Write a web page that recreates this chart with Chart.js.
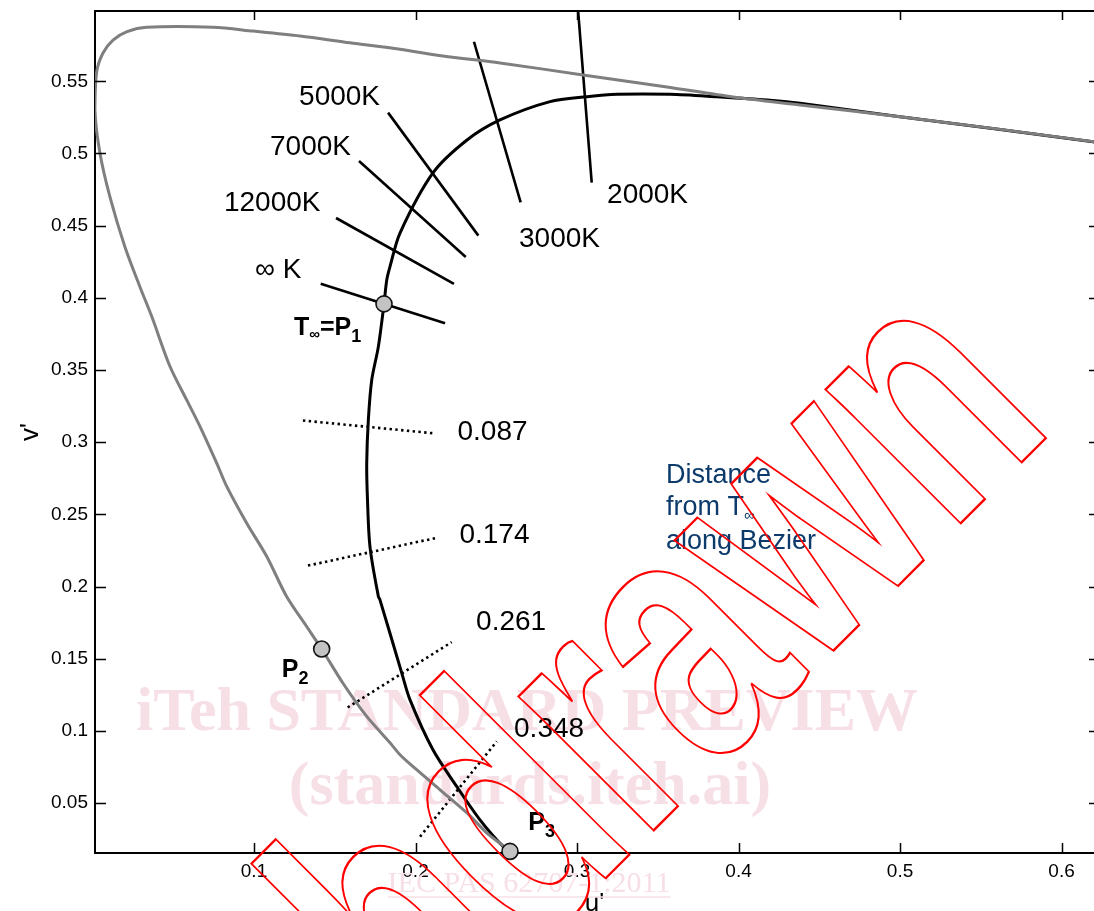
<!DOCTYPE html>
<html>
<head>
<meta charset="utf-8">
<script src="https://cdn.jsdelivr.net/npm/chart.js@4.4.1/dist/chart.umd.min.js"></script>
<style>
  html, body { margin: 0; padding: 0; background: #fff; }
</style>
</head>
<body>
<canvas id="chart" width="1094" height="911"></canvas>
<script>
const SANS = '"Liberation Sans", Arial, Helvetica, sans-serif';
const SERIF = '"Liberation Serif", "Times New Roman", serif';

// tick values
const xTicks = [0.1, 0.2, 0.3, 0.4, 0.5, 0.6];
const yTicks = [0.05, 0.1, 0.15, 0.2, 0.25, 0.3, 0.35, 0.4, 0.45, 0.5, 0.55];

// spectral locus (grey), violet end -> red end
const locusU = [0.2567, 0.2441, 0.2317, 0.2152, 0.2007, 0.1904, 0.1842, 0.1698, 0.1551, 0.1419,
  0.1326, 0.1202, 0.1079, 0.0955, 0.0831, 0.0769, 0.0666, 0.0583, 0.0480, 0.0367,
  0.0294, 0.0201, 0.0108, 0.0046, 0.0015, 0.0026, 0.0065, 0.0127, 0.0214, 0.0336,
  0.0746, 0.0994, 0.1285, 0.1594, 0.1904, 0.2170, 0.2523, 0.3037, 0.3557, 0.3966,
  0.4381, 0.5000, 0.6195, 0.6234];
const locusV = [0.0184, 0.0294, 0.0433, 0.0592, 0.0731, 0.0835, 0.0918, 0.1100, 0.1330, 0.1567,
  0.1723, 0.1931, 0.2208, 0.2439, 0.2694, 0.2855, 0.3108, 0.3293, 0.3524, 0.3870,
  0.4075, 0.4352, 0.4699, 0.5003, 0.5301, 0.5566, 0.5696, 0.5786, 0.5844, 0.5874,
  0.5874, 0.5848, 0.5814, 0.5767, 0.5722, 0.5675, 0.5627, 0.5544, 0.5461, 0.5391,
  0.5336, 0.5255, 0.5082, 0.5065];

// Bezier curve (black), from P3 upwards
const bezierU = [0.2585, 0.2542, 0.2399, 0.2255, 0.2108, 0.1966, 0.1915, 0.1780, 0.1770, 0.1718,
  0.1702, 0.1698, 0.1708, 0.1729, 0.1770, 0.1805, 0.1822, 0.1842, 0.1904, 0.2108,
  0.2319, 0.2523, 0.2833, 0.3062, 0.3248, 0.3576, 0.3867, 0.4176, 0.4381, 0.5000,
  0.6195, 0.6234];
const bezierV = [0.0165, 0.0199, 0.0384, 0.0615, 0.0869, 0.1215, 0.1400, 0.1908, 0.1931, 0.2277,
  0.2623, 0.2857, 0.3154, 0.3431, 0.3662, 0.3958, 0.4124, 0.4216, 0.4449, 0.4865,
  0.5093, 0.5232, 0.5359, 0.5393, 0.5410, 0.5410, 0.5393, 0.5371, 0.5348, 0.5255,
  0.5082, 0.5065];

// isotemperature lines (solid)
const isoNames = ['2000K', '3000K', '5000K', '7000K', '12000K', '\u221E K'];
const isoU0 = [0.3006, 0.2362, 0.1830, 0.1650, 0.1508, 0.1413];
const isoV0 = [0.6000, 0.5774, 0.5283, 0.4948, 0.4553, 0.4098];
const isoU1 = [0.3091, 0.2651, 0.2389, 0.2311, 0.2238, 0.2183];
const isoV1 = [0.4798, 0.4662, 0.4431, 0.4283, 0.4096, 0.3824];

// distance from T-infinity along the Bezier (dotted)
const distNames = ['0.087', '0.174', '0.261', '0.348'];
const distU0 = [0.1303, 0.1334, 0.1580, 0.2028];
const distV0 = [0.3150, 0.2145, 0.1162, 0.0267];
const distU1 = [0.2108, 0.2121, 0.2224, 0.2503];
const distV1 = [0.3062, 0.2335, 0.1615, 0.0927];

// control points
const ctrlNames = ['P1', 'P2', 'P3'];
const ctrlU = [0.1805, 0.1419, 0.2585];
const ctrlV = [0.3958, 0.1567, 0.0165];

const pts = (us, vs) => us.map((u, i) => ({ x: u, y: vs[i] }));

const datasets = [];
datasets.push({
    label: 'points',
    data: pts(ctrlU, ctrlV),
    pointRadius: 8,
    pointBackgroundColor: '#c3c3c3',
    pointBorderColor: '#111',
    pointBorderWidth: 1.6,
    showLine: false,
    clip: false
});
datasets.push({
    label: 'spectral locus',
    data: pts(locusU, locusV),
    showLine: true, pointRadius: 0,
    borderColor: '#7f7f7f', borderWidth: 3, tension: 0.3
});
datasets.push({
    label: 'bezier',
    data: pts(bezierU, bezierV),
    showLine: true, pointRadius: 0,
    borderColor: '#000', borderWidth: 3, tension: 0.3
});
isoNames.forEach((name, i) => {
    datasets.push({
        label: name,
        data: [{ x: isoU0[i], y: isoV0[i] }, { x: isoU1[i], y: isoV1[i] }],
        showLine: true, pointRadius: 0,
        borderColor: '#000', borderWidth: 2.6
    });
});
distNames.forEach((name, i) => {
    datasets.push({
        label: name,
        data: [{ x: distU0[i], y: distV0[i] }, { x: distU1[i], y: distV1[i] }],
        showLine: true, pointRadius: 0,
        borderColor: '#000', borderWidth: 2.6, borderDash: [2.4, 3.4]
    });
});

// where the labels sit (data coords, left / middle)
const isoLabelAt = [[0.3186, 0.4713], [0.2641, 0.4408], [0.1279, 0.5391], [0.1099, 0.5045], [0.0814, 0.4657], [0.1006, 0.4193]];
const distLabelAt = [[0.2260, 0.3071], [0.2272, 0.2358], [0.2375, 0.1749], [0.2610, 0.1008]];

function runs(ctx, x, y, parts) {
    parts.forEach(p => {
        ctx.font = p.font;
        ctx.fillText(p.t, x, y + (p.dy || 0));
        x += ctx.measureText(p.t).width + (p.gap || 0);
    });
}

// page watermark in pink, behind the curves
const pinkMarks = {
    id: 'pinkMarks',
    beforeDatasetsDraw(chart) {
        const ctx = chart.ctx;
        ctx.save();
        ctx.fillStyle = '#f7dfe6';
        ctx.strokeStyle = '#f7dfe6';
        ctx.textAlign = 'center';
        ctx.textBaseline = 'alphabetic';
        ctx.font = 'bold 62px ' + SERIF;
        ctx.fillText('iTeh STANDARD PREVIEW', 527, 730);
        ctx.fillText('(standards.iteh.ai)', 530, 804);
        ctx.font = '30px ' + SERIF;
        const t = 'IEC PAS 62707-1:2011';
        ctx.fillText(t, 529, 892);
        const w = ctx.measureText(t).width;
        ctx.lineWidth = 1.5;
        ctx.beginPath();
        ctx.moveTo(529 - w / 2, 897);
        ctx.lineTo(529 + w / 2, 897);
        ctx.stroke();
        ctx.restore();
    }
};

// frame on top / right, ticks pointing inwards
const frame = {
    id: 'frame',
    afterDatasetsDraw(chart) {
        const { ctx, chartArea: a, scales: { x, y } } = chart;
        ctx.save();
        ctx.strokeStyle = '#000';
        ctx.lineWidth = 2;
        ctx.beginPath();
        ctx.moveTo(a.left, a.top);
        ctx.lineTo(a.right, a.top);
        ctx.stroke();
        ctx.lineWidth = 1.5;
        ctx.beginPath();
        xTicks.forEach(v => {
            const px = Math.round(x.getPixelForValue(v)) + 0.5;
            ctx.moveTo(px, a.bottom); ctx.lineTo(px, a.bottom - 10);
            ctx.moveTo(px, a.top); ctx.lineTo(px, a.top + 9);
        });
        yTicks.forEach(v => {
            const py = Math.round(y.getPixelForValue(v)) + 0.5;
            ctx.moveTo(a.left, py); ctx.lineTo(a.left + 11, py);
            ctx.moveTo(a.right, py); ctx.lineTo(a.right - 5, py);
        });
        ctx.stroke();
        ctx.restore();
    }
};

// text annotations
const notes = {
    id: 'notes',
    afterDatasetsDraw(chart) {
        const { ctx, scales: { x, y } } = chart;
        ctx.save();
        ctx.fillStyle = '#000';
        ctx.textAlign = 'left';
        ctx.textBaseline = 'middle';
        ctx.font = '28px ' + SANS;
        isoNames.forEach((n, i) => {
            ctx.fillText(n, x.getPixelForValue(isoLabelAt[i][0]), y.getPixelForValue(isoLabelAt[i][1]));
        });
        distNames.forEach((n, i) => {
            ctx.fillText(n, x.getPixelForValue(distLabelAt[i][0]), y.getPixelForValue(distLabelAt[i][1]));
        });

        ctx.textBaseline = 'alphabetic';
        const B = 'bold 25px ' + SANS, S = 'bold 18px ' + SANS, SI = 'bold 15px ' + SANS;
        runs(ctx, x.getPixelForValue(0.1248), y.getPixelForValue(0.3743), [
            { t: 'T', font: B }, { t: '\u221E', font: SI, dy: 4 }, { t: '=P', font: B }, { t: '1', font: S, dy: 7 }
        ]);
        runs(ctx, x.getPixelForValue(0.1172), y.getPixelForValue(0.1373), [
            { t: 'P', font: B }, { t: '2', font: S, dy: 7 }
        ]);
        runs(ctx, x.getPixelForValue(0.2698), y.getPixelForValue(0.0310), [
            { t: 'P', font: B }, { t: '3', font: S, dy: 7 }
        ]);

        ctx.fillStyle = '#0b3a6b';
        const dx = x.getPixelForValue(0.3551), dy = y.getPixelForValue(0.2716);
        ctx.font = '27px ' + SANS;
        ctx.fillText('Distance', dx, dy);
        runs(ctx, dx, dy + 32, [{ t: 'from T', font: '27px ' + SANS }, { t: '\u221E', font: '15px ' + SANS, dy: 5 }]);
        ctx.font = '27px ' + SANS;
        ctx.fillText('along Bezier', dx, dy + 66);
        ctx.restore();
    }
};

// red outlined diagonal stamp
const stamp = {
    id: 'stamp',
    afterDraw(chart) {
        const ctx = chart.ctx;
        ctx.save();
        ctx.translate(1057, 427);
        ctx.rotate(-Math.PI / 4);
        ctx.scale(0.7, 1);
        ctx.font = 'bold 360px ' + SANS;
        ctx.textAlign = 'right';
        ctx.textBaseline = 'alphabetic';
        ctx.strokeStyle = '#ff0000';
        ctx.lineWidth = 2.4;
        ctx.strokeText('Withdrawn', 0, 0);
        ctx.restore();
    }
};

Chart.defaults.font.family = SANS;
Chart.defaults.color = '#000';

new Chart(document.getElementById('chart'), {
    type: 'scatter',
    data: { datasets: datasets },
    options: {
        responsive: false,
        animation: false,
        layout: { autoPadding: false, padding: { top: 11, right: 0, left: 0, bottom: 0 } },
        plugins: {
            legend: { display: false },
            tooltip: { enabled: false }
        },
        scales: {
            x: {
                type: 'linear',
                min: 0.00155,
                max: 0.6201,
                afterBuildTicks: s => { s.ticks = xTicks.map(v => ({ value: v })); },
                afterFit: s => { s.height = 58; s.paddingLeft = 0; s.paddingRight = 0; s.paddingTop = 0; s.paddingBottom = 0; },
                grid: { drawOnChartArea: false, drawTicks: false },
                border: { display: true, color: '#000', width: 2 },
                ticks: { color: '#000', font: { size: 19 }, padding: 7, maxRotation: 0, autoSkip: false, callback: v => String(v) },
                title: { display: true, text: "u'", color: '#000', font: { size: 26, lineHeight: 0.55 }, padding: 0 }
            },
            y: {
                type: 'linear',
                min: 0.0154,
                max: 0.5987,
                afterBuildTicks: s => { s.ticks = yTicks.map(v => ({ value: v })); },
                afterFit: s => { s.width = 95; s.paddingLeft = 0; s.paddingRight = 0; s.paddingTop = 0; s.paddingBottom = 0; },
                grid: { drawOnChartArea: false, drawTicks: false },
                border: { display: true, color: '#000', width: 2 },
                ticks: { color: '#000', font: { size: 19 }, padding: 7, autoSkip: false, callback: v => String(v) },
                title: { display: true, text: "v'", color: '#000', font: { size: 26 }, padding: { top: 15, bottom: 0 } }
            }
        }
    },
    plugins: [pinkMarks, frame, notes, stamp]
});
</script>
</body>
</html>
